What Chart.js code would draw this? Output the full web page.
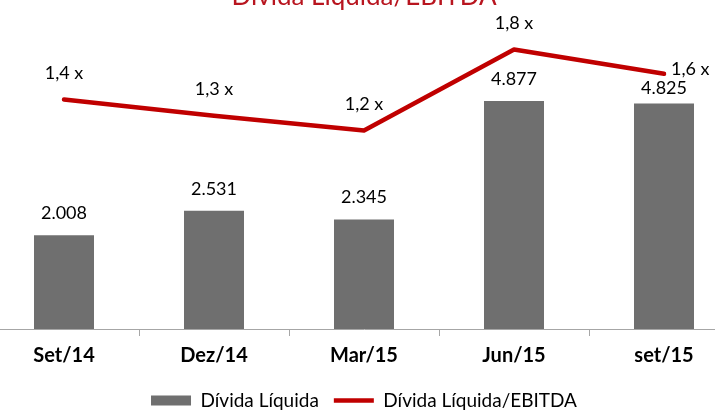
<!DOCTYPE html>
<html>
<head>
<meta charset="utf-8">
<script src="https://cdn.jsdelivr.net/npm/chart.js@4.4.0/dist/chart.umd.min.js"></script>
<style>
  html, body { margin: 0; padding: 0; background: #fff; overflow: hidden; width: 715px; height: 410px; }
  /* the source image is cropped on every side, so the canvas is a bit bigger than the window */
  #wrap { position: absolute; left: -11px; top: -20px; width: 750px; height: 440px; }
</style>
</head>
<body>
<div id="wrap"><canvas id="dividaChart"></canvas></div>
<script>
// chart data
const periods = ['Set/14', 'Dez/14', 'Mar/15', 'Jun/15', 'set/15'];
const dividaLiquida = [2008, 2531, 2345, 4877, 4825];
const dividaEbitda = [1.43, 1.31, 1.20, 1.80, 1.62];

Chart.defaults.font.family = 'Lato';
Chart.defaults.color = '#000';

const fmtThousands = v => String(v).replace(/\B(?=(\d{3})+(?!\d))/g, '.');
const fmtRatio = v => v.toFixed(1).replace('.', ',') + ' x';

// draws the value labels above bars and line points
const valueLabels = {
    id: 'valueLabels',
    afterDatasetsDraw(chart) {
        const ctx = chart.ctx;
        ctx.save();
        ctx.fillStyle = '#000';
        ctx.font = '18px Lato';
        ctx.textBaseline = 'middle';

        const bars = chart.getDatasetMeta(0).data;
        bars.forEach((bar, i) => {
            const lift = i === bars.length - 1 ? 15 : 22;
            ctx.textAlign = 'center';
            ctx.fillText(fmtThousands(dividaLiquida[i]), bar.x, bar.y - lift);
        });

        const pts = chart.getDatasetMeta(1).data;
        pts.forEach((pt, i) => {
            if (i === pts.length - 1) {
                ctx.textAlign = 'left';
                ctx.fillText(fmtRatio(dividaEbitda[i]), pt.x + 7, pt.y - 5);
            } else {
                ctx.textAlign = 'center';
                ctx.fillText(fmtRatio(dividaEbitda[i]), pt.x, pt.y - 26);
            }
        });
        ctx.restore();
    }
};

const dividaChart = new Chart(document.getElementById('dividaChart'), {
    type: 'bar',
    data: {
        labels: periods,
        datasets: [{
            label: 'Dívida Líquida',
            data: dividaLiquida,
            backgroundColor: '#6f6f6f',
            borderWidth: 0,
            pointStyle: 'rect',
            categoryPercentage: 1,
            barPercentage: 0.4,
            yAxisID: 'y',
        }, {
            type: 'line',
            label: 'Dívida Líquida/EBITDA',
            data: dividaEbitda,
            borderColor: '#c00000',
            backgroundColor: '#c00000',
            borderWidth: 4.5,
            borderCapStyle: 'round',
            borderJoinStyle: 'round',
            pointRadius: 0,
            pointStyle: 'line',
            tension: 0,
            fill: false,
            yAxisID: 'y2',
        }]
    },
    options: {
        responsive: true,
        maintainAspectRatio: false,
        animation: false,
        layout: {
            padding: 0
        },
        plugins: {
            title: {
                display: true,
                text: 'Dívida Líquida/EBITDA',
                color: '#b8151f',
                font: { size: 26, weight: 'normal', lineHeight: 1.2 },
                padding: { top: 1, bottom: 13 }
            },
            legend: {
                position: 'bottom',
                labels: {
                    usePointStyle: true,
                    pointStyleWidth: 40,
                    boxHeight: 10,
                    padding: 15,
                    font: { size: 19 },
                    color: '#000'
                }
            },
            tooltip: { enabled: false }
        },
        scales: {
            x: {
                grid: {
                    offset: true,
                    drawOnChartArea: false,
                    tickLength: 7,
                    color: '#a6a6a6'
                },
                border: { display: true, color: '#a6a6a6', width: 1 },
                ticks: {
                    padding: 8,
                    font: { size: 20, weight: 'bold', lineHeight: 1.2 },
                    color: '#000'
                }
            },
            y: {
                display: false,
                min: 0,
                max: 6500
            },
            y2: {
                display: false,
                position: 'right',
                min: -0.27,
                max: 1.98
            }
        }
    },
    plugins: [valueLabels]
});
</script>
</body>
</html>
